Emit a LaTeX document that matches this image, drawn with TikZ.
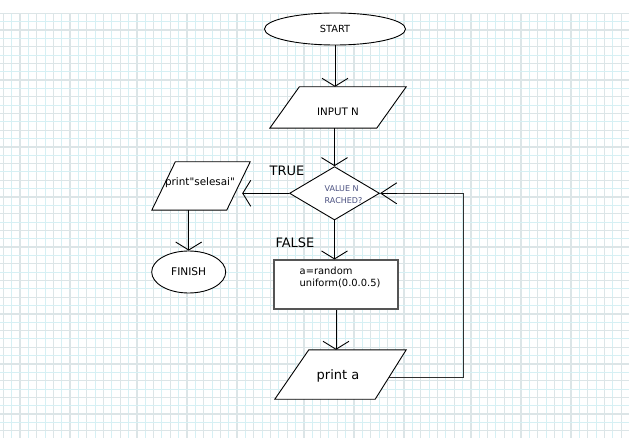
\documentclass[tikz,border=0pt]{standalone}
\usepackage{fontspec}
\setmainfont{DejaVu Sans}
% same family without the TeX quote mapping, for straight quotes
\newfontfamily\plainfont{DejaVu Sans}
\usetikzlibrary{shapes.geometric,arrows.meta,calc}

\definecolor{gridmajor}{HTML}{DCE5E7}
\definecolor{gridminor}{HTML}{D6F0F4}
\definecolor{decisiontext}{HTML}{4A5080}
\definecolor{boxline}{HTML}{555555}
\definecolor{loopline}{HTML}{303030}

\tikzset{
  shapeline/.style={draw=black, line width=0.9pt},
  conn/.style={draw=black, line width=0.9pt, -{Straight Barb[length=8pt,width=26pt,line width=0.9pt]}},
  oval/.style={ellipse, shapeline, fill=white, inner sep=0pt},
  parabox/.style={inner sep=0pt},
  lbl/.style={inner sep=0pt, font=\fontsize{13}{15}\selectfont},
}

\begin{document}
\begin{tikzpicture}[x=1pt, y=-1pt]
  % canvas
  \useasboundingbox (0,0) rectangle (629,438);
  \fill[white] (0,0) rectangle (629,438);

  % squared paper background
  \foreach \i in {0,...,37} {
    \pgfmathsetmacro\gx{3.3+16.7*\i}
    \pgfmathsetmacro\hx{\gx+8.35}
    \draw[gridminor, line width=1pt] (\hx,13.3) -- (\hx,438);
    \draw[gridmajor, line width=1.3pt] (\gx,13.3) -- (\gx,438);
  }
  \foreach \j in {0,...,25} {
    \pgfmathsetmacro\gy{13.3+16.7*\j}
    \pgfmathsetmacro\hy{\gy+8.35}
    \draw[gridminor, line width=1pt] (0,\hy) -- (629,\hy);
    \draw[gridmajor, line width=1.3pt] (0,\gy) -- (629,\gy);
  }

  % start / end terminals
  \node[oval, minimum width=141pt, minimum height=32pt,
        font=\fontsize{9.8}{11}\selectfont] (start) at (335,29) {START};
  \node[oval, minimum width=74pt, minimum height=42pt,
        font=\fontsize{10.6}{12}\selectfont] (finish) at (188.7,272) {FINISH};

  % input N
  \node[parabox, minimum width=136pt, minimum height=41pt] (input) at (338,107.5) {};
  \fill[white] ([xshift=29.5pt]input.north west) -- (input.north east)
    -- ([xshift=-29.5pt]input.south east) -- (input.south west) -- cycle;
  \draw[shapeline] ([xshift=29.5pt]input.north west) -- (input.north east)
    -- ([xshift=-29.5pt]input.south east) -- (input.south west) -- cycle;
  \node[font=\fontsize{10.3}{12}\selectfont, inner sep=0pt] (inputtext) at (338,112) {INPUT N};

  % decision
  \node[diamond, shapeline, fill=white, minimum width=90pt, minimum height=53.4pt,
        inner sep=0pt] (decide) at (334.5,193.3) {};
  \node[align=left, inner sep=0pt, text=decisiontext,
        font=\fontsize{8}{11.5}\selectfont] (decidetext) at (343.5,194.5)
        {VALUE N\\RACHED?};

  % print "selesai"
  \node[parabox, minimum width=98pt, minimum height=48pt] (selesai) at (201,186) {};
  \fill[white] ([xshift=23.5pt]selesai.north west) -- (selesai.north east)
    -- ([xshift=-23.5pt]selesai.south east) -- (selesai.south west) -- cycle;
  \draw[shapeline] ([xshift=23.5pt]selesai.north west) -- (selesai.north east)
    -- ([xshift=-23.5pt]selesai.south east) -- (selesai.south west) -- cycle;
  \node[font=\plainfont\fontsize{10.4}{12}\selectfont, inner sep=0pt] (selesaitext) at (200,183)
        {print"selesai"};

  % random assignment
  \node[draw=boxline, line width=1.3pt, fill=white, minimum width=124pt,
        minimum height=49pt, inner sep=0pt] (assign) at (336,284.6) {};
  \node[anchor=west, align=left, inner sep=0pt,
        font=\fontsize{9.9}{11.8}\selectfont] (assigntext) at (299.5,277)
        {a=random\\uniform(0.0.0.5)};

  % print a
  \node[parabox, minimum width=131pt, minimum height=49pt] (printa) at (340.5,374.5) {};
  \fill[white] ([xshift=34pt]printa.north west) -- (printa.north east)
    -- ([xshift=-31pt]printa.south east) -- (printa.south west) -- cycle;
  \draw[shapeline] ([xshift=34pt]printa.north west) -- (printa.north east)
    -- ([xshift=-31pt]printa.south east) -- (printa.south west) -- cycle;
  \node[font=\fontsize{13}{15}\selectfont, inner sep=0pt] (printatext) at (338,376) {print a};

  % branch labels
  \node[lbl] (truelbl) at (287,170.5) {TRUE};
  \node[lbl] (falselbl) at (295,243) {FALSE};

  % connectors
  \draw[conn] (start.south) -- (start.south |- input.north);
  \draw[conn] (input.south -| decide.north) -- (decide.north);
  \draw[conn] (decide.west) -- ($(selesai.east |- decide.west)+(-8,0)$);
  \draw[conn] (finish.north |- selesai.south) -- (finish.north);
  \draw[conn] (decide.south) -- (decide.south |- assign.north);
  \draw[conn] (assign.south) -- (assign.south |- printa.north);

  % loop back from print a to the decision
  \coordinate (loopstart) at (389,377.3);
  \coordinate (loopcorner) at (463.3,377.3);
  \draw[draw=loopline, line width=1.4pt] (loopstart) -- (loopcorner)
    -- (loopcorner |- decide.east) -- ($(decide.east)+(16,0)$);
  \draw[draw=black, line width=0.9pt,
        -{Straight Barb[length=16pt,width=21pt,line width=0.9pt]}]
    ($(decide.east)+(17,0)$) -- (decide.east);
\end{tikzpicture}
\end{document}
